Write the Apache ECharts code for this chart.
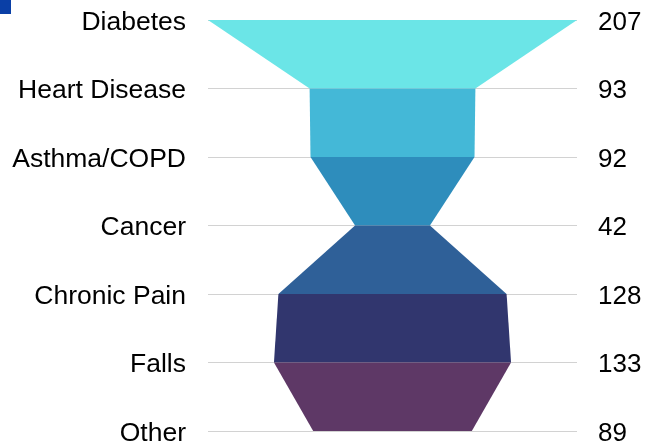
<!DOCTYPE html>
<html>
<head>
<meta charset="utf-8">
<script src="https://cdn.jsdelivr.net/npm/echarts@6/dist/echarts.min.js"></script>
<style>
  html, body { margin: 0; padding: 0; background: #fff; }
  #chart { width: 654px; height: 447px; }
</style>
</head>
<body>
<div id="chart"></div>
<script>
const categories = ['Diabetes', 'Heart Disease', 'Asthma/COPD', 'Cancer', 'Chronic Pain', 'Falls', 'Other']
const values = [207, 93, 92, 42, 128, 133, 89]
const bandColors = ['#6be5e7', '#44b8d7', '#2e8dbc', '#2f6098', '#31366e', '#5e3866']

const half = Math.max(...values) / 2
const bands = values.slice(0, -1).map((v, i) => [v, values[i + 1], i])

const chart = echarts.init(document.getElementById('chart'))

const labelFont = 'Liberation Sans, Arial, sans-serif'

const option = {
  animation: false,
  grid: { top: 20, bottom: 15, left: 208, right: 77 },
  xAxis: {
    type: 'value',
    min: -half,
    max: half,
    show: false
  },
  yAxis: [
    {
      type: 'category',
      data: categories,
      inverse: true,
      boundaryGap: false,
      axisLine: { show: false },
      axisTick: { show: false },
      axisLabel: {
        margin: 22,
        formatter: '{t|{value}}',
        rich: { t: { fontSize: 26.5, color: '#000', fontFamily: labelFont, padding: [5, 0, 0, 0] } }
      },
      splitLine: { show: true, lineStyle: { color: '#d2d2d2', width: 1 } }
    },
    {
      type: 'category',
      data: values.map(String),
      inverse: true,
      boundaryGap: false,
      position: 'right',
      axisLine: { show: false },
      axisTick: { show: false },
      axisLabel: {
        margin: 21,
        formatter: '{t|{value}}',
        rich: { t: { fontSize: 26, color: '#000', fontFamily: labelFont, padding: [5, 0, 0, 0] } }
      },
      splitLine: { show: false }
    }
  ],
  graphic: [
    { type: 'rect', left: 0, top: 0, shape: { width: 11, height: 14 }, style: { fill: '#0a3fa6' } }
  ],
  series: [
    {
      type: 'custom',
      data: bands,
      encode: { x: [0, 1], y: 2 },
      renderItem: function (params, api) {
        const top = api.value(0) / 2
        const bottom = api.value(1) / 2
        const i = api.value(2)
        const points = [
          api.coord([-top, i]),
          api.coord([top, i]),
          api.coord([bottom, i + 1]),
          api.coord([-bottom, i + 1])
        ]
        return {
          type: 'polygon',
          shape: { points: points },
          style: { fill: bandColors[i] }
        }
      }
    }
  ]
}

chart.setOption(option)
</script>
</body>
</html>
